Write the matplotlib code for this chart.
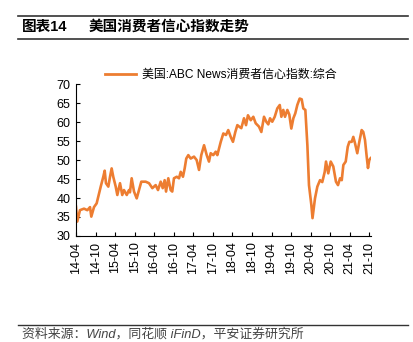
import numpy as np
import pandas as pd
import matplotlib
matplotlib.use('Agg')
import matplotlib.pyplot as plt
import matplotlib.dates as mdates
from matplotlib.lines import Line2D

plt.rcParams['font.family'] = ['Liberation Sans', 'Noto Sans CJK SC']

# ABC News consumer comfort index (composite)
dates = ['2014-04-01', '2014-04-13', '2014-05-08', '2014-06-15', '2014-07-16', '2014-08-10',
         '2014-08-22', '2014-09-16', '2014-10-11', '2014-11-02', '2014-11-18', '2014-12-12',
         '2014-12-25', '2015-01-06', '2015-01-28', '2015-02-13', '2015-02-28', '2015-03-15',
         '2015-04-07', '2015-04-22', '2015-05-17', '2015-06-07', '2015-06-23', '2015-07-19',
         '2015-08-09', '2015-08-18', '2015-09-03', '2015-09-25', '2015-10-20', '2015-11-10',
         '2015-12-02', '2016-01-12', '2016-02-12', '2016-03-14', '2016-04-14', '2016-05-06',
         '2016-05-31', '2016-06-19', '2016-07-07', '2016-07-20', '2016-08-10', '2016-09-01',
         '2016-09-16', '2016-10-02', '2016-10-28', '2016-11-18', '2016-12-04', '2016-12-25',
         '2017-01-10', '2017-01-25', '2017-02-13', '2017-03-07', '2017-04-07', '2017-05-02',
         '2017-05-24', '2017-06-14', '2017-07-10', '2017-08-04', '2017-08-25', '2017-09-10',
         '2017-10-04', '2017-10-27', '2017-11-11', '2017-11-27', '2017-12-13', '2018-01-06',
         '2018-01-31', '2018-02-21', '2018-03-16', '2018-04-06', '2018-04-28', '2018-05-17',
         '2018-06-08', '2018-06-23', '2018-07-18', '2018-08-06', '2018-08-24', '2018-09-19',
         '2018-10-13', '2018-11-04', '2018-12-05', '2018-12-27', '2019-01-21', '2019-02-11',
         '2019-03-02', '2019-03-18', '2019-04-08', '2019-05-01', '2019-05-25', '2019-06-17',
         '2019-07-02', '2019-07-20', '2019-08-05', '2019-08-27', '2019-09-14', '2019-10-03',
         '2019-10-22', '2019-11-09', '2019-11-28', '2019-12-20', '2020-01-08', '2020-01-23',
         '2020-02-11', '2020-03-01', '2020-03-16', '2020-04-07', '2020-04-18', '2020-05-11',
         '2020-06-02', '2020-06-27', '2020-07-18', '2020-08-10', '2020-08-22', '2020-09-12',
         '2020-10-05', '2020-10-29', '2020-11-23', '2020-12-12', '2020-12-31', '2021-01-16',
         '2021-01-31', '2021-02-22', '2021-03-13', '2021-03-28', '2021-04-19', '2021-05-04',
         '2021-05-20', '2021-06-10', '2021-06-29', '2021-07-21', '2021-08-05', '2021-08-21',
         '2021-09-06', '2021-09-18', '2021-09-30', '2021-10-13']
values = [37.7, 33.8, 36.8, 37.2, 36.8, 37.6,
          35.1, 37.6, 38.6, 41.2, 43.0, 45.6,
          47.2, 43.9, 43.0, 45.6, 47.8, 45.6,
          43.0, 40.8, 43.9, 40.8, 42.1, 40.8,
          42.1, 41.5, 45.2, 41.7, 39.9, 42.1,
          44.3, 44.3, 43.9, 42.6, 43.4, 42.1,
          44.3, 42.6, 44.7, 41.7, 45.2, 42.1,
          41.7, 45.2, 45.6, 45.2, 46.9, 45.6,
          47.8, 50.4, 51.3, 50.4, 50.9, 50.0,
          47.4, 51.3, 53.9, 51.3, 49.6, 51.8,
          51.3, 52.2, 51.3, 53.1, 54.8, 57.0,
          56.6, 57.9, 56.1, 54.8, 57.4, 59.2,
          58.7, 58.4, 61.0, 59.2, 61.8, 60.5,
          61.4, 59.7, 58.8, 57.4, 61.4, 60.1,
          59.4, 61.0, 60.1, 61.4, 63.6, 64.5,
          61.4, 63.2, 61.4, 63.2, 62.0, 58.3,
          61.0, 62.3, 64.5, 66.2, 66.0, 63.6,
          63.2, 53.9, 43.4, 38.2, 34.7, 39.9,
          43.0, 44.7, 44.2, 46.9, 49.6, 46.5,
          49.6, 48.3, 44.3, 43.4, 45.2, 44.7,
          48.7, 49.6, 53.5, 54.8, 54.8, 56.1,
          54.4, 51.8, 54.8, 57.9, 57.4, 55.3,
          50.9, 47.9, 50.0, 50.5]
series_name = '美国:ABC News消费者信心指数:综合'
tick_dates = pd.date_range('2014-04-01', '2021-10-01', freq='6MS')

x = pd.to_datetime(dates)

fig = plt.figure(figsize=(4.13, 3.42), dpi=100)
ax = fig.add_axes([0.184, 0.31, 0.714, 0.444])

ax.plot(x, values, color='#ED7D31', lw=1.9)

ax.set_ylim(30, 70)
ax.set_yticks(range(30, 71, 5))
ax.set_xlim(pd.Timestamp('2014-04-01'), pd.Timestamp('2021-10-15'))
ax.set_xticks(tick_dates)
ax.xaxis.set_major_formatter(mdates.DateFormatter('%y-%m'))
plt.setp(ax.get_xticklabels(), rotation=90)

for s in ['top', 'right']:
    ax.spines[s].set_visible(False)
for s in ['left', 'bottom']:
    ax.spines[s].set_linewidth(0.8)
ax.tick_params(direction='in', length=3, width=0.8, labelsize=9, colors='black')
ax.tick_params(axis='x', pad=4)
ax.tick_params(axis='y', pad=4)

ax.legend([Line2D([0], [0], color='#ED7D31', lw=2.0)], [series_name],
          loc='lower center', bbox_to_anchor=(0.49, 0.99), frameon=False,
          fontsize=8.6, handlelength=2.6, handletextpad=0.5, borderaxespad=0)

# title block
fig.add_artist(Line2D([18 / 413, 408 / 413], [1 - 15.5 / 342] * 2, color='#333333', lw=1.2))
fig.add_artist(Line2D([18 / 413, 408 / 413], [1 - 38.5 / 342] * 2, color='#333333', lw=1.2))
fig.text(22 / 413, 1 - 27 / 342, '图表14', fontsize=10.5, fontweight='bold', va='center')
fig.text(89 / 413, 1 - 27 / 342, '美国消费者信心指数走势', fontsize=10.5, fontweight='bold', va='center')

# source
fig.add_artist(Line2D([18 / 413, 408 / 413], [1 - 325 / 342] * 2, color='#333333', lw=1.0))
fig.text(22 / 413, 1 - 334 / 342, '资料来源：Wind，同花顺 iFinD，平安证券研究所',
         fontsize=9.3, style='italic', color='#444444', va='center')

fig.savefig('out.png', dpi=100)
